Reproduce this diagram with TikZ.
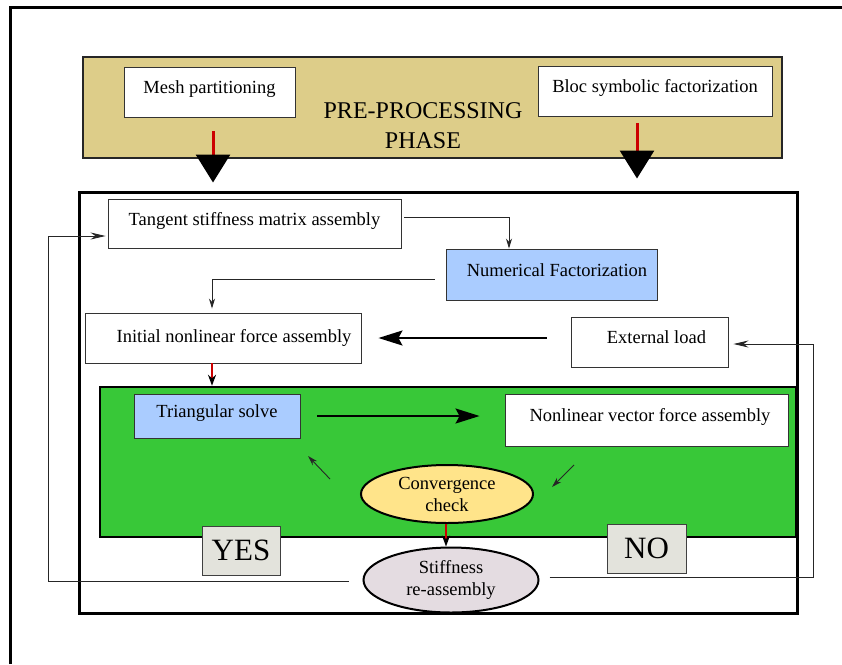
\documentclass[tikz,border=0pt]{standalone}
\usepackage{fontspec}
\setmainfont{Liberation Serif}
\usetikzlibrary{arrows.meta,calc,shapes.geometric}
\definecolor{khaki}{HTML}{DDCD89}
\definecolor{grn}{HTML}{38C838}
\definecolor{lblue}{HTML}{AACCFF}
\definecolor{yell}{HTML}{FFE48A}
\definecolor{lav}{HTML}{E4DCE1}
\definecolor{tag}{HTML}{E3E3DC}
\begin{document}
\begin{tikzpicture}[x=1pt,y=-1pt,
  dims/.style 2 args={minimum width=#1,minimum height=#2,inner sep=0pt},
  txt/.style={font=\fontsize{18.5}{22}\selectfont},
  box/.style={draw=black!80,line width=0.9pt,fill=white,txt,text height=13pt,text depth=10pt},
  bbox/.style={box,fill=lblue},
  oval/.style={ellipse,draw=black,line width=2pt,txt,align=center},
  tagbox/.style={draw=black!75,line width=0.9pt,fill=tag,font=\fontsize{31}{34}\selectfont},
  thinarr/.style={draw=black!85,line width=0.9pt,-{Stealth[length=10pt,width=6pt]}},
  longarr/.style={draw=black!85,line width=0.9pt,-{Stealth[length=15pt,width=7pt]}},
  bigarr/.style={draw=black,line width=2pt,-{Stealth[length=24pt,width=15pt,inset=4pt]}},
  redarr/.style={draw=red!80!black,line width=2.6pt,-{Stealth[length=11pt,width=8pt,color=black]}},
  redbig/.style={draw=red!80!black,line width=3pt,-{Triangle[length=28pt,width=34pt,color=black]}},
]
\useasboundingbox (0,0) rectangle (842,664);
\fill[white] (0,0) rectangle (842,664);
\draw[line width=3pt] (10,664) -- (10,7) -- (842,7);

% pre-processing phase
\node[draw=black!85,line width=1.5pt,fill=khaki,dims={699}{101}] (pre) at (432.5,107.5) {};
\node[box,dims={171}{50}] (mesh) at (209.5,92) {Mesh partitioning};
\node[box,dims={234}{50}] (bloc) at (655,91) {Bloc symbolic factorization};
\node[font=\fontsize{24}{30}\selectfont,align=center] (pretxt) at (423,126) {PRE-PROCESSING\\PHASE};

% main box
\node[draw=black,line width=3pt,dims={718}{421}] (main) at (438,402.5) {};
\node[draw=black,line width=2.5pt,fill=grn,dims={696}{150}] (green) at (448,462) {};

\node[box,dims={293}{49}] (tan) at (254.5,223.5) {Tangent stiffness matrix assembly};
\node[bbox,dims={211}{51}] (num) at (551.5,274.5) {\hspace*{11pt}Numerical Factorization};
\node[box,dims={276}{50},text height=13pt,text depth=4pt] (ini) at (223,338) {\hspace*{22pt}Initial nonlinear force assembly};
\node[box,dims={157}{50}] (ext) at (649.5,342) {\hspace*{14pt}External load};
\node[bbox,dims={166}{44}] (tri) at (217,416) {Triangular solve};
\node[box,dims={283}{52}] (nl) at (646.5,420) {\hspace*{7pt}Nonlinear vector force assembly};
\node[oval,fill=yell,minimum width=172pt,minimum height=58pt,inner sep=0pt] (conv) at (447,494) {Convergence\\check};
\node[oval,fill=lav,minimum width=175pt,minimum height=65pt,inner sep=0pt] (stiff) at (451,580) {Stiffness\\re-assembly};
\node[tagbox,dims={78}{49}] (yes) at (241,550.5) {YES};
\node[tagbox,dims={79}{49}] (no) at (646.5,548.5) {NO};

% pre-processing arrows
\coordinate (mo) at ($(mesh.south)+(3.5,0)$);
\coordinate (bo) at ($(bloc.south)+(-18,0)$);
\draw[redbig,shorten <=14pt,shorten >=8pt] (mo) -- (mo |- main.north);
\draw[redbig,shorten <=7pt,shorten >=12pt] (bo) -- (bo |- main.north);

% tangent -> numerical
\draw[thinarr] ($(tan.east)+(3,-6.5)$) -| ($(num.north)+(-42.5,0)$);
% numerical -> initial
\draw[thinarr,shorten >=4pt] ($(num.west)+(-11,4.5)$) -| ($(ini.north)+(-11,0)$);
% external -> initial
\draw[bigarr,shorten <=24pt,shorten >=17pt] (ext.west |- ini.east) -- (ini.east);
% initial -> green
\coordinate (io) at ($(ini.south)+(-11,0)$);
\draw[redarr] (io) -- (io |- green.north);
% triangular -> nonlinear
\draw[bigarr,shorten <=17pt,shorten >=25pt] (tri.east) -- (tri.east -| nl.west);
% small diagonal arrows
\coordinate (d1s) at (330,479); \coordinate (d1e) at (308,456);
\coordinate (d2s) at (574,465); \coordinate (d2e) at (552,487);
\draw[thinarr] (d1s) -- (d1e);
\draw[thinarr] (d2s) -- (d2e);
% convergence -> stiffness
\draw[redarr] (conv.south -| 446,0) -- (stiff.north -| 446,0);
% YES loop
\coordinate (yescorner) at (48,0);
\coordinate (yesin) at ($(tan.west)+(-2,12.5)$);
\draw[longarr] ($(stiff.west)+(-14,1)$) -| (yescorner |- yesin) -- (yesin);
% NO loop
\coordinate (nocorner) at (813,0);
\coordinate (noin) at ($(ext.east)+(5,2)$);
\draw[longarr] ($(stiff.east)+(10,-3)$) -| (nocorner |- noin) -- (noin);
\end{tikzpicture}
\end{document}
